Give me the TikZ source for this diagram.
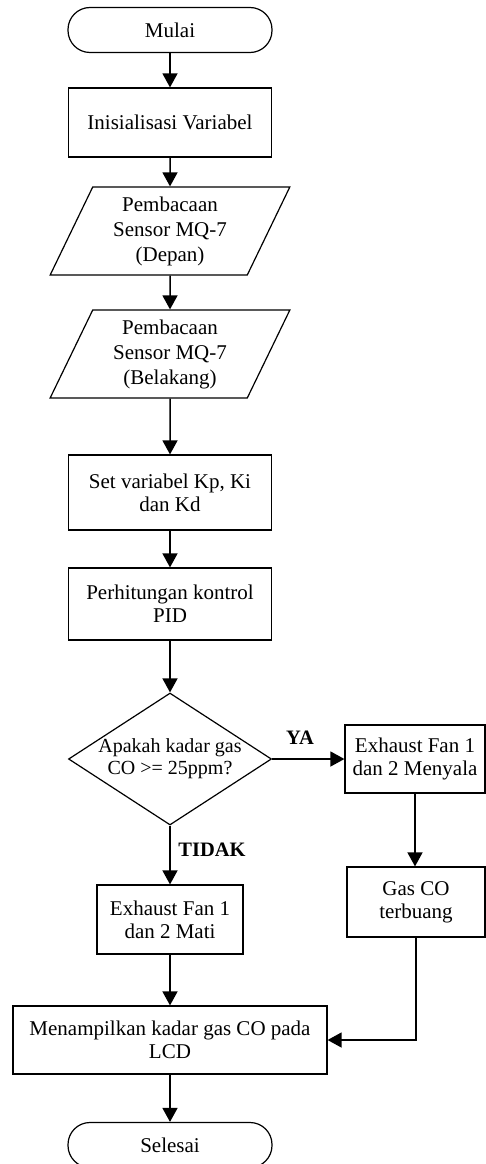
\documentclass[tikz,border=0pt]{standalone}
\usepackage{fontspec}
\setmainfont{Liberation Serif}
\usetikzlibrary{shapes.geometric,arrows.meta}
\begin{document}
\begin{tikzpicture}[x=1pt,y=-1pt,
  txt/.style={align=center,inner sep=0pt,font=\fontsize{21}{23}\selectfont},
  box/.style={txt,draw,line width=1.2pt,minimum width=203pt,minimum height=70pt},
  term/.style={txt,draw,line width=1.2pt,rounded corners=22pt,minimum width=204pt,minimum height=45pt},
  io/.style={txt,draw,line width=1.2pt,trapezium,trapezium left angle=65.6,trapezium right angle=114.4,trapezium stretches=true,minimum width=240pt,minimum height=88pt,font=\fontsize{21}{25}\selectfont},
  dia/.style={draw,line width=1.2pt,diamond,inner sep=0pt,minimum width=203pt,minimum height=132pt},
  arr/.style={line width=1.5pt,-{Triangle[length=14pt,width=15pt]}},
  lbl/.style={font=\fontsize{20.5}{22}\selectfont\bfseries,inner sep=0pt}]
\useasboundingbox (0,0) rectangle (485,1164);
\node[term] (start) at (170,30) {Mulai};
\node[box,minimum height=69pt] (init) at (170,122.5) {Inisialisasi Variabel};
\node[io] (s1) at (170,231) {Pembacaan\\Sensor MQ-7\\(Depan)};
\node[io] (s2) at (170,354) {Pembacaan\\Sensor MQ-7\\(Belakang)};
\node[box,minimum height=75pt] (kp) at (170,492.5) {Set variabel Kp, Ki\\dan Kd};
\node[box,minimum height=72pt] (pid) at (170,604) {Perhitungan kontrol\\PID};
\node[dia] (dec) at (170,759) {};
\node[txt,font=\fontsize{20}{22}\selectfont] (dectext) at (dec.center) {Apakah kadar gas\\CO >= 25ppm?};
\node[box,minimum width=140pt,minimum height=68pt] (on) at (415,759) {Exhaust Fan 1\\dan 2 Menyala};
\node[box,minimum width=138pt,minimum height=70pt] (gas) at (416,902) {Gas CO\\terbuang};
\node[box,minimum width=146pt,minimum height=69pt] (off) at (170,919.5) {Exhaust Fan 1\\dan 2 Mati};
\node[box,minimum width=314pt,minimum height=68pt] (lcd) at (170,1040) {Menampilkan kadar gas CO pada\\LCD};
\node[term] (end) at (170,1145) {Selesai};
\node[lbl] (ya) at (300,738) {YA};
\node[lbl] (tidak) at (212,850) {TIDAK};
\draw[arr] (start) -- (init);
\draw[arr] (init) -- (s1);
\draw[arr] (s1) -- (s2);
\draw[arr] (s2) -- (kp);
\draw[arr] (kp) -- (pid);
\draw[arr] (pid) -- (dec);
\draw[arr] (dec.east) -- (on.west);
\draw[arr] (dec.south) -- (off.north);
\draw[arr] (on) -- (on |- gas.north);
\draw[arr] (off) -- (off |- lcd.north);
\draw[arr] (gas.south) |- (lcd.east);
\draw[arr] (lcd) -- (end);
\end{tikzpicture}
\end{document}
